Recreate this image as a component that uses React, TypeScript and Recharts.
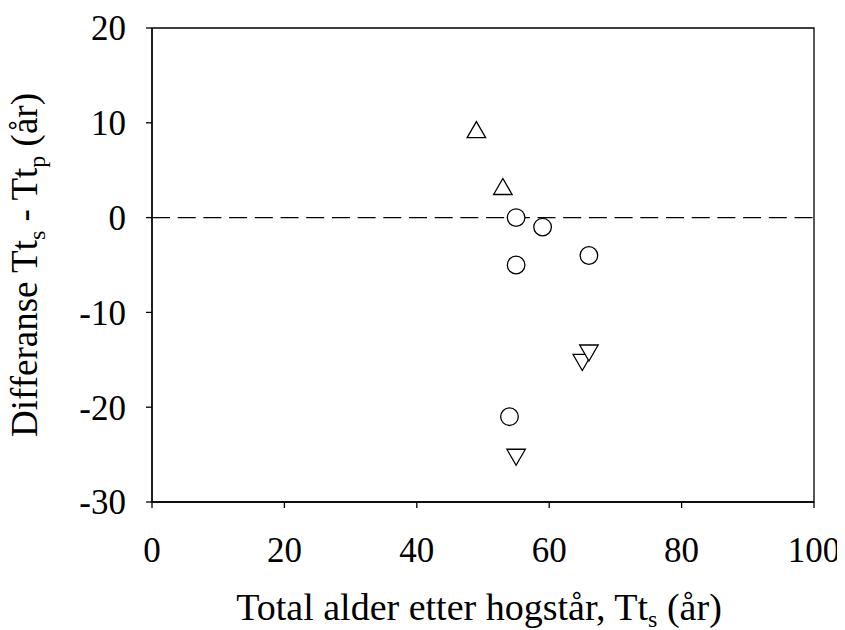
import {
    ScatterChart,
    Scatter,
    XAxis,
    YAxis,
    ReferenceLine,
    ReferenceArea
} from 'recharts';

// data
const upX = [49, 53];
const upY = [9, 3];
const circleX = [55, 59, 55, 66, 54];
const circleY = [0, -1, -5, -4, -21];
const downX = [65, 66, 55];
const downY = [-15, -14, -25];

const xTicks = [0, 20, 40, 60, 80, 100];
const yTicks = [-30, -20, -10, 0, 10, 20];

const toPoints = (xs: number[], ys: number[]) => xs.map((x, i) => ({ x, y: ys[i] }));

const FONT = 'Liberation Serif, DejaVu Serif, serif';
const INK = '#000';

// symbols drawn around the point the scatter gives us
const CircleMark = (props: any) => (
    <circle cx={props.cx} cy={props.cy} r={8.8} fill="#fff" stroke={INK} strokeWidth={1.3} />
);

const TriangleMark = (props: any, down: boolean) => {
    const { cx, cy } = props;
    const s = 18.5;
    const h = 16;
    const d = down ? -1 : 1;
    const apex = cy - d * (2 * h) / 3;
    const base = cy + d * h / 3;
    return (
        <path
            d={`M${cx},${apex} L${cx + s / 2},${base} L${cx - s / 2},${base} Z`}
            fill="#fff"
            stroke={INK}
            strokeWidth={1.3}
        />
    );
};

const TickText = (props: any) => {
    const { x, y, payload, textAnchor, dy } = props;
    return (
        <text x={x} y={y} dy={dy} textAnchor={textAnchor} fill={INK} fontSize={35} style={{ fontFamily: FONT }}>
            {payload.value}
        </text>
    );
};

const XTick = (props: any) => <TickText {...props} textAnchor="middle" dy="0.71em" />;
const YTick = (props: any) => <TickText {...props} textAnchor="end" dy="0.355em" />;

const YTitle = (props: any) => {
    const vb = props.viewBox || { x: 0, y: 20, width: 144, height: 474 };
    const x = vb.x + 29;
    const y = vb.y + vb.height / 2;
    return (
        <text
            x={x}
            y={y}
            transform={`rotate(-90, ${x}, ${y})`}
            textAnchor="middle"
            fontSize={37}
            fill={INK}
            style={{ fontFamily: FONT }}
        >
            Differanse Tt
            <tspan dy={8} fontSize={24}>s</tspan>
            <tspan dy={-8}> - Tt</tspan>
            <tspan dy={8} fontSize={24}>p</tspan>
            <tspan dy={-8}> (år)</tspan>
        </text>
    );
};

const XTitle = (props: any) => {
    const vb = props.viewBox || { x: 144, y: 494, width: 662, height: 128 };
    const x = vb.x + vb.width / 2 - 4;
    const y = vb.y + 118;
    return (
        <text x={x} y={y} textAnchor="middle" fontSize={38} fill={INK} style={{ fontFamily: FONT }}>
            Total alder etter hogstår, Tt
            <tspan dy={7} fontSize={24}>s</tspan>
            <tspan dy={-7}> (år)</tspan>
        </text>
    );
};

export default function App() {
    return (
        <ScatterChart
            width={837}
            height={622}
            margin={{ top: 20, right: 31, bottom: 0, left: 0 }}
            style={{ fontFamily: FONT }}
        >
            <ReferenceArea
                x1={0}
                x2={100}
                y1={-30}
                y2={20}
                fill="none"
                stroke={INK}
                strokeWidth={1.3}
                fillOpacity={0}
            />

            <XAxis
                type="number"
                dataKey="x"
                domain={[0, 100]}
                ticks={xTicks}
                interval={0}
                height={128}
                tickSize={6}
                tickMargin={29}
                stroke={INK}
                strokeWidth={1.3}
                tick={XTick}
                label={{ content: XTitle }}
            />
            <YAxis
                type="number"
                dataKey="y"
                domain={[-30, 20]}
                ticks={yTicks}
                interval={0}
                width={144}
                tickSize={6}
                tickMargin={20}
                stroke={INK}
                strokeWidth={1.3}
                tick={YTick}
                label={{ content: YTitle }}
            />

            {/* nollinja */}
            <ReferenceLine y={0} stroke={INK} strokeWidth={1.3} strokeDasharray="18 7.7" />

            <Scatter data={toPoints(upX, upY)} isAnimationActive={false} shape={(p: any) => TriangleMark(p, false)} />
            <Scatter data={toPoints(circleX, circleY)} isAnimationActive={false} shape={CircleMark} />
            <Scatter data={toPoints(downX, downY)} isAnimationActive={false} shape={(p: any) => TriangleMark(p, true)} />
        </ScatterChart>
    );
}
